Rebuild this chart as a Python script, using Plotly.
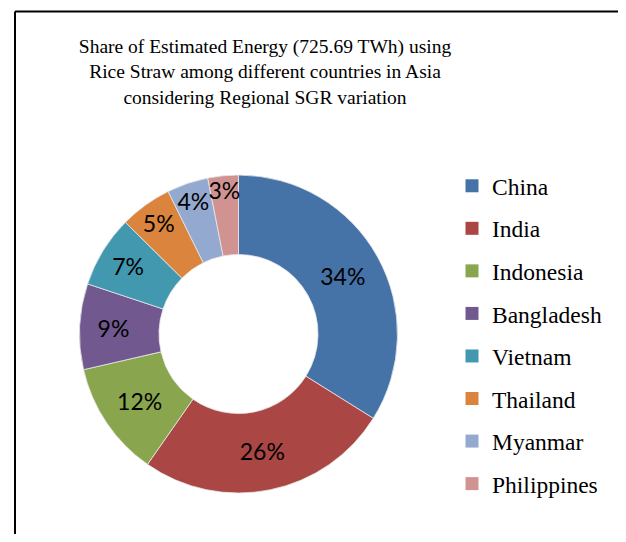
"""Donut chart: share of estimated energy from rice straw across Asian countries."""
import plotly.graph_objects as go

countries = ["China", "India", "Indonesia", "Bangladesh", "Vietnam",
             "Thailand", "Myanmar", "Philippines"]
share = [33.9, 25.8, 11.7, 8.7, 7.3, 5.3, 4.2, 3.1]
colors = ["#4572A7", "#AA4643", "#89A54E", "#71588F", "#4198AF",
          "#DB843D", "#93A9CF", "#D19392"]

# page body keeps an 8px margin, so the figure is sized to fit inside it
W, H = 610, 526
cx, cy, r = 230.5, 326, 159  # donut centre / radius in px from top-left

fig = go.Figure()
fig.add_trace(
    go.Pie(
        labels=countries,
        values=share,
        hole=0.5,
        sort=False,
        direction="clockwise",
        rotation=0,
        marker=dict(colors=colors, line=dict(color="#E8E8E8", width=0.8)),
        texttemplate="%{percent:.0%}",
        textposition="inside",
        insidetextorientation="horizontal",
        textfont=dict(family="Lato", size=23, color="black"),
        domain=dict(x=[(cx - r) / W, (cx + r) / W],
                    y=[(H - cy - r) / H, (H - cy + r) / H]),
        showlegend=False,
        hoverinfo="label+percent",
    )
)

# legend entries as dummy traces so the item spacing can be opened up
for i, (name, col) in enumerate(zip(countries, colors)):
    fig.add_trace(
        go.Scatter(
            x=[None], y=[None], mode="markers", name=name,
            legendgroup=f"g{i}",
            marker=dict(symbol="square", size=13, color=col),
        )
    )

fig.update_layout(
    width=W,
    height=H,
    margin=dict(l=0, r=0, t=0, b=0),
    paper_bgcolor="white",
    plot_bgcolor="white",
    uniformtext=dict(minsize=23, mode="show"),
    xaxis=dict(visible=False),
    yaxis=dict(visible=False),
    title=dict(
        text="Share of Estimated Energy (725.69 TWh) using<br>"
             "Rice Straw among different countries in Asia<br>"
             "considering Regional SGR variation",
        x=257 / W, xanchor="center",
        y=1 - 45 / H, yanchor="top",
        font=dict(family="Liberation Serif", size=19.5, color="black"),
    ),
    legend=dict(
        x=444 / W, xanchor="left",
        y=1 - 156 / H, yanchor="top",
        font=dict(family="Liberation Serif", size=23.5, color="black"),
        tracegroupgap=9,
        itemclick=False,
    ),
    shapes=[
        dict(type="line", xref="paper", yref="paper",
             x0=7 / W, x1=7 / W, y0=0, y1=1 - 3.5 / H,
             line=dict(color="black", width=2)),
        dict(type="line", xref="paper", yref="paper",
             x0=7 / W, x1=1, y0=1 - 3.5 / H, y1=1 - 3.5 / H,
             line=dict(color="black", width=2)),
    ],
)

fig.write_html("out.html")
